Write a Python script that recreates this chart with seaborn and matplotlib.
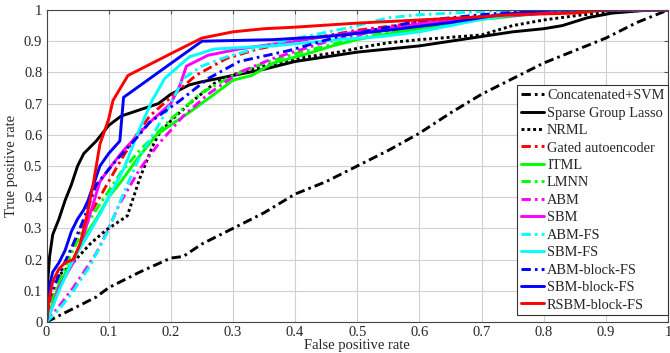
import matplotlib
matplotlib.use("Agg")
import matplotlib.pyplot as plt
import seaborn as sns
import pandas as pd

# ---- data ----
concat_x = [0, 0.02, 0.05, 0.08, 0.10, 0.12, 0.15, 0.20, 0.22, 0.25, 0.30, 0.35, 0.40, 0.45, 0.50, 0.55, 0.60, 0.65, 0.70, 0.75, 0.80, 0.85, 0.90, 0.95, 1.0]
concat_y = [0, 0.02, 0.05, 0.08, 0.11, 0.13, 0.16, 0.205, 0.21, 0.25, 0.30, 0.35, 0.41, 0.45, 0.50, 0.55, 0.605, 0.67, 0.73, 0.78, 0.83, 0.87, 0.91, 0.96, 1.0]

sgl_x = [0, 0.002, 0.005, 0.01, 0.02, 0.03, 0.04, 0.05, 0.06, 0.07, 0.08, 0.10, 0.12, 0.15, 0.18, 0.20, 0.23, 0.25, 0.30, 0.35, 0.40, 0.45, 0.50, 0.55, 0.60, 0.65, 0.70, 0.75, 0.80, 0.83, 0.87, 0.91, 0.97, 1.0]
sgl_y = [0, 0.13, 0.21, 0.28, 0.33, 0.39, 0.44, 0.50, 0.54, 0.56, 0.58, 0.63, 0.66, 0.68, 0.70, 0.73, 0.76, 0.77, 0.79, 0.81, 0.835, 0.85, 0.865, 0.875, 0.885, 0.90, 0.915, 0.93, 0.94, 0.95, 0.975, 0.99, 1.0, 1.0]

nrml_x = [0, 0.002, 0.01, 0.02, 0.038, 0.07, 0.096, 0.13, 0.14, 0.15, 0.16, 0.17, 0.18, 0.20, 0.23, 0.27, 0.31, 0.36, 0.42, 0.47, 0.52, 0.55, 0.60, 0.70, 0.75, 0.80, 0.86, 0.91, 0.97, 1.0]
nrml_y = [0, 0.10, 0.13, 0.15, 0.18, 0.25, 0.295, 0.34, 0.40, 0.46, 0.51, 0.56, 0.60, 0.645, 0.70, 0.765, 0.80, 0.825, 0.85, 0.865, 0.885, 0.895, 0.905, 0.92, 0.95, 0.968, 0.984, 0.993, 1.0, 1.0]

gated_x = [0, 0.01, 0.02, 0.04, 0.06, 0.08, 0.10, 0.12, 0.145, 0.166, 0.20, 0.24, 0.29, 0.34, 0.40, 0.50, 0.60, 0.70, 0.80, 0.90, 1.0]
gated_y = [0, 0.08, 0.14, 0.23, 0.31, 0.38, 0.45, 0.52, 0.60, 0.66, 0.72, 0.79, 0.845, 0.875, 0.90, 0.935, 0.96, 0.98, 0.99, 1.0, 1.0]

itml_x = [0, 0.01, 0.02, 0.04, 0.06, 0.08, 0.10, 0.12, 0.145, 0.177, 0.21, 0.225, 0.27, 0.30, 0.33, 0.365, 0.42, 0.46, 0.50, 0.54, 0.60, 0.70, 0.80, 0.85, 1.0]
itml_y = [0, 0.06, 0.12, 0.19, 0.27, 0.33, 0.40, 0.45, 0.52, 0.60, 0.645, 0.665, 0.73, 0.775, 0.79, 0.83, 0.86, 0.885, 0.905, 0.92, 0.94, 0.97, 0.99, 1.0, 1.0]

lmnn_x = [0, 0.01, 0.02, 0.04, 0.06, 0.08, 0.10, 0.12, 0.15, 0.20, 0.25, 0.30, 0.35, 0.40, 0.50, 0.60, 0.70, 0.80, 0.85, 1.0]
lmnn_y = [0, 0.07, 0.13, 0.22, 0.30, 0.36, 0.42, 0.48, 0.55, 0.65, 0.735, 0.79, 0.83, 0.86, 0.91, 0.95, 0.975, 0.99, 1.0, 1.0]

abm_x = [0, 0.02, 0.043, 0.06, 0.08, 0.10, 0.118, 0.15, 0.18, 0.22, 0.26, 0.31, 0.365, 0.445, 0.525, 0.60, 0.70, 0.80, 0.85, 1.0]
abm_y = [0, 0.05, 0.11, 0.16, 0.22, 0.30, 0.38, 0.49, 0.57, 0.66, 0.73, 0.80, 0.845, 0.895, 0.93, 0.955, 0.975, 0.99, 1.0, 1.0]

sbm_x = [0, 0.01, 0.02, 0.043, 0.06, 0.086, 0.10, 0.124, 0.166, 0.20, 0.215, 0.225, 0.26, 0.31, 0.38, 0.45, 0.50, 0.60, 0.70, 0.80, 0.85, 1.0]
sbm_y = [0, 0.05, 0.11, 0.19, 0.28, 0.45, 0.49, 0.55, 0.64, 0.70, 0.76, 0.82, 0.855, 0.875, 0.895, 0.915, 0.93, 0.955, 0.975, 0.99, 1.0, 1.0]

abmfs_x = [0, 0.02, 0.04, 0.07, 0.096, 0.113, 0.13, 0.15, 0.177, 0.20, 0.22, 0.25, 0.29, 0.38, 0.49, 0.55, 0.60, 0.70, 0.75, 1.0]
abmfs_y = [0, 0.04, 0.09, 0.18, 0.28, 0.36, 0.44, 0.53, 0.62, 0.70, 0.78, 0.82, 0.85, 0.90, 0.945, 0.975, 0.985, 0.995, 1.0, 1.0]

sbmfs_x = [0, 0.01, 0.02, 0.043, 0.07, 0.09, 0.124, 0.15, 0.17, 0.19, 0.23, 0.27, 0.365, 0.47, 0.54, 0.60, 0.65, 0.70, 0.75, 0.80, 1.0]
sbmfs_y = [0, 0.05, 0.10, 0.20, 0.29, 0.36, 0.49, 0.62, 0.71, 0.78, 0.85, 0.875, 0.885, 0.905, 0.915, 0.93, 0.95, 0.97, 0.985, 1.0, 1.0]

abmblk_x = [0, 0.005, 0.02, 0.043, 0.06, 0.08, 0.113, 0.145, 0.166, 0.215, 0.26, 0.31, 0.39, 0.47, 0.55, 0.60, 0.70, 0.80, 1.0]
abmblk_y = [0, 0.08, 0.15, 0.25, 0.33, 0.44, 0.52, 0.59, 0.64, 0.71, 0.78, 0.835, 0.87, 0.915, 0.945, 0.965, 0.985, 1.0, 1.0]

sbmblk_x = [0, 0.003, 0.01, 0.02, 0.03, 0.04, 0.05, 0.06, 0.067, 0.086, 0.10, 0.118, 0.124, 0.25, 0.365, 0.45, 0.55, 0.65, 0.73, 0.81, 1.0]
sbmblk_y = [0, 0.10, 0.16, 0.19, 0.23, 0.29, 0.33, 0.36, 0.39, 0.50, 0.54, 0.58, 0.72, 0.90, 0.905, 0.915, 0.935, 0.96, 0.985, 1.0, 1.0]

rsbm_x = [0, 0.005, 0.01, 0.02, 0.03, 0.043, 0.054, 0.065, 0.075, 0.086, 0.10, 0.107, 0.131, 0.20, 0.25, 0.30, 0.35, 0.40, 0.50, 0.60, 0.70, 0.75, 0.85, 0.90, 1.0]
rsbm_y = [0, 0.08, 0.13, 0.17, 0.19, 0.20, 0.25, 0.34, 0.44, 0.57, 0.65, 0.71, 0.79, 0.86, 0.91, 0.93, 0.94, 0.945, 0.958, 0.968, 0.978, 0.985, 0.99, 1.0, 1.0]

labels = ["Concatenated+SVM", "Sparse Group Lasso", "NRML", "Gated autoencoder",
          "ITML", "LMNN", "ABM", "SBM", "ABM-FS", "SBM-FS",
          "ABM-block-FS", "SBM-block-FS", "RSBM-block-FS"]
xs = [concat_x, sgl_x, nrml_x, gated_x, itml_x, lmnn_x, abm_x, sbm_x,
      abmfs_x, sbmfs_x, abmblk_x, sbmblk_x, rsbm_x]
ys = [concat_y, sgl_y, nrml_y, gated_y, itml_y, lmnn_y, abm_y, sbm_y,
      abmfs_y, sbmfs_y, abmblk_y, sbmblk_y, rsbm_y]
ticks = [0, 0.1, 0.2, 0.3, 0.4, 0.5, 0.6, 0.7, 0.8, 0.9, 1.0]
tick_labels = ["0", "0.1", "0.2", "0.3", "0.4", "0.5", "0.6", "0.7", "0.8", "0.9", "1"]

# ---- style ----
sns.set_style("white")
plt.rcParams["font.family"] = ["Liberation Serif", "DejaVu Serif"]

DD = (0, (3.2, 1.4, 0.9, 1.4))
DOT = (0, (1.0, 1.0))
SOL = "-"
colors = ["black", "black", "black", "#ff0000", "#00ff00", "#00ff00",
          "#ff00ff", "#ff00ff", "#00ffff", "#00ffff", "#0000ff", "#0000ff", "#ff0000"]
styles = [DD, SOL, DOT, DD, SOL, DD, DD, SOL, DD, SOL, DD, SOL, SOL]

fig = plt.figure(figsize=(6.70, 3.53), dpi=100)
ax = fig.add_axes([46.5 / 670, 31 / 353, (668 - 46.5) / 670, 312 / 353])

for x, y, lab, c, ls in zip(xs, ys, labels, colors, styles):
    df = pd.DataFrame({"x": x, "y": y})
    sns.lineplot(data=df, x="x", y="y", ax=ax, color=c, linestyle=ls,
                 linewidth=2.1, label=lab, estimator=None, sort=False)

ax.set_xlim(0, 1)
ax.set_ylim(0, 1)
ax.set_xticks(ticks)
ax.set_xticklabels(tick_labels)
ax.set_yticks(ticks)
ax.set_yticklabels(tick_labels)
ax.grid(True, color="#d0d0d0", linewidth=0.8)
ax.tick_params(direction="in", top=True, right=True, length=3, labelsize=10.5,
               color="#555555", pad=3)
for s in ax.spines.values():
    s.set_color("#444444")
    s.set_linewidth(0.8)
ax.set_xlabel("False positive rate", fontsize=10.5, labelpad=0)
ax.set_ylabel("True positive rate", fontsize=10.5, labelpad=4)

leg = ax.legend(loc="lower right", bbox_to_anchor=(1.0, 0.022), fontsize=10.4,
                frameon=True, fancybox=False, edgecolor="#333333", framealpha=1,
                handlelength=1.6, handletextpad=0.2, labelspacing=0.3,
                borderpad=0.25, borderaxespad=0)
leg.get_frame().set_linewidth(0.8)

fig.savefig("out.png", dpi=100)
